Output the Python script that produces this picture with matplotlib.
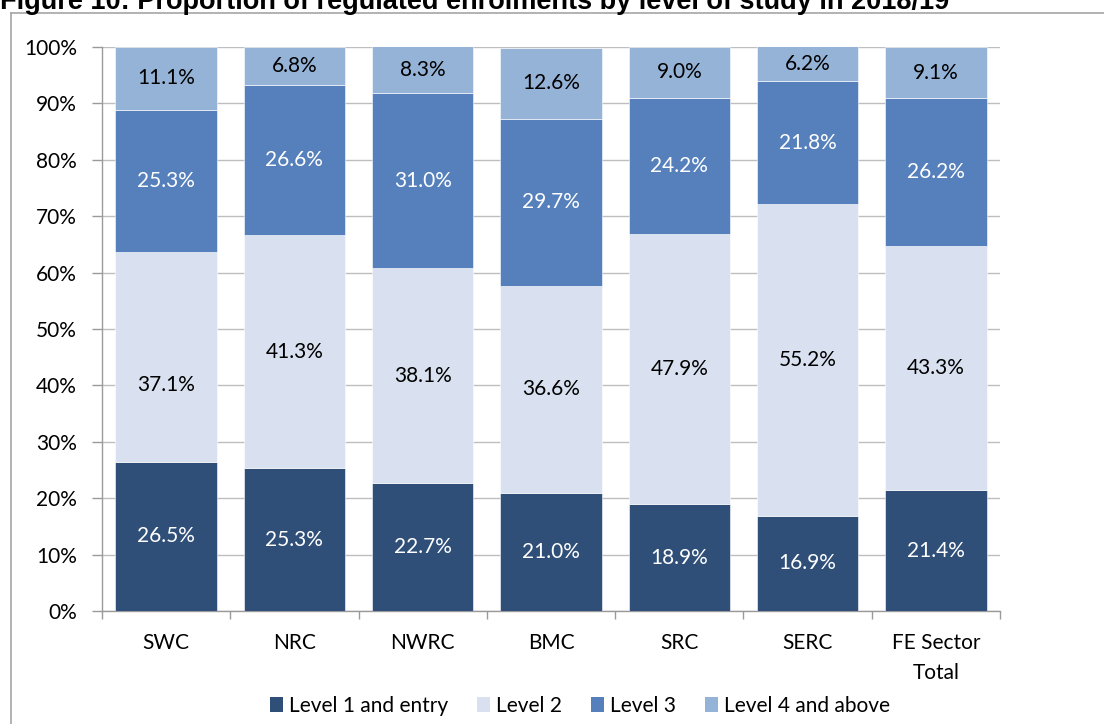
#!/usr/bin/env python3
import matplotlib
matplotlib.use("Agg")
import matplotlib.pyplot as plt
from matplotlib.lines import Line2D
from matplotlib.patches import Patch
import numpy as np

COLLEGES = ["SWC", "NRC", "NWRC", "BMC", "SRC", "SERC", "FE Sector\nTotal"]
LEVEL_NAMES = ["Level 1 and entry", "Level 2", "Level 3", "Level 4 and above"]
LEVEL_1 = [26.5, 25.3, 22.7, 21.0, 18.9, 16.9, 21.4]
LEVEL_2 = [37.1, 41.3, 38.1, 36.6, 47.9, 55.2, 43.3]
LEVEL_3 = [25.3, 26.6, 31.0, 29.7, 24.2, 21.8, 26.2]
LEVEL_4 = [11.1, 6.8, 8.3, 12.6, 9.0, 6.2, 9.1]

COLORS = ["#2F4F79", "#D9E1F0", "#5580BC", "#95B3D7"]
TEXT_COLORS = ["white", "black", "white", "black"]
# the SWC level-2 label sits lower than centre in the original
LABEL_NUDGE = {(0, 1): -5.0}

FONT = "Lato"
FS = 15


def main():
    plt.rcParams["font.family"] = [FONT, "DejaVu Sans"]
    fig = plt.figure(figsize=(11.04, 7.24), dpi=100)
    ax = fig.add_axes([102 / 1104, 113 / 724, 898 / 1104, 564 / 724])

    x = np.arange(len(COLLEGES))
    bottom = np.zeros(len(COLLEGES))
    series = [LEVEL_1, LEVEL_2, LEVEL_3, LEVEL_4]
    for li, vals in enumerate(series):
        vals = np.array(vals)
        ax.bar(x, vals / 100, width=0.79, bottom=bottom / 100, color=COLORS[li],
               edgecolor="white", linewidth=0.4, zorder=3)
        for ci, v in enumerate(vals):
            yc = bottom[ci] + v / 2 + LABEL_NUDGE.get((ci, li), 0.0)
            ax.text(x[ci], yc / 100, f"{v:.1f}%", ha="center", va="center",
                    fontsize=FS, color=TEXT_COLORS[li], zorder=4)
        bottom = bottom + vals

    ax.set_xlim(-0.5, len(COLLEGES) - 0.5)
    ax.set_ylim(0, 1.0)
    ticks = np.arange(0, 1.01, 0.1)
    ax.set_yticks(ticks)
    ax.set_yticklabels([f"{int(round(t * 100))}%" for t in ticks])
    ax.yaxis.grid(True, color="#BEBEBE", lw=1.0, zorder=0)
    ax.set_axisbelow(True)

    ax.set_xticks(x)
    ax.set_xticklabels(COLLEGES, linespacing=1.62)
    ax.set_xticks(np.arange(-0.5, len(COLLEGES), 1.0), minor=True)
    ax.tick_params(axis="x", which="major", length=0, pad=16, labelsize=FS)
    ax.tick_params(axis="x", which="minor", length=6, color="#9A9A9A", width=1)
    ax.tick_params(axis="y", length=7, color="#9A9A9A", width=1, pad=11, labelsize=FS)

    for side in ("top", "right"):
        ax.spines[side].set_visible(False)
    for side in ("left", "bottom"):
        ax.spines[side].set_color("#9A9A9A")
        ax.spines[side].set_linewidth(1.0)

    handles = [Patch(facecolor=c, edgecolor="none") for c in COLORS]
    fig.legend(handles, LEVEL_NAMES, loc="center", bbox_to_anchor=(580 / 1104, 1 - 706 / 724),
               ncol=4, frameon=False, fontsize=FS, handlelength=0.6, handleheight=0.75,
               handletextpad=0.3, columnspacing=1.4)

    # outer chart frame (only top and left edges are inside the image)
    fig.add_artist(Line2D([11 / 1104, 11 / 1104], [0, 1 - 13 / 724],
                          transform=fig.transFigure, color="#A6A6A6", lw=1.2))
    fig.add_artist(Line2D([11 / 1104, 1], [1 - 13 / 724, 1 - 13 / 724],
                          transform=fig.transFigure, color="#A6A6A6", lw=1.2))

    fig.text(0.0, 1 - 9 / 724, "Figure 10: Proportion of regulated enrolments by level of study in 2018/19",
             ha="left", va="baseline", fontsize=19.5, fontweight="bold",
             family=["Liberation Sans", "DejaVu Sans"])

    fig.savefig("out.png", dpi=100)
    plt.close(fig)


if __name__ == "__main__":
    main()
